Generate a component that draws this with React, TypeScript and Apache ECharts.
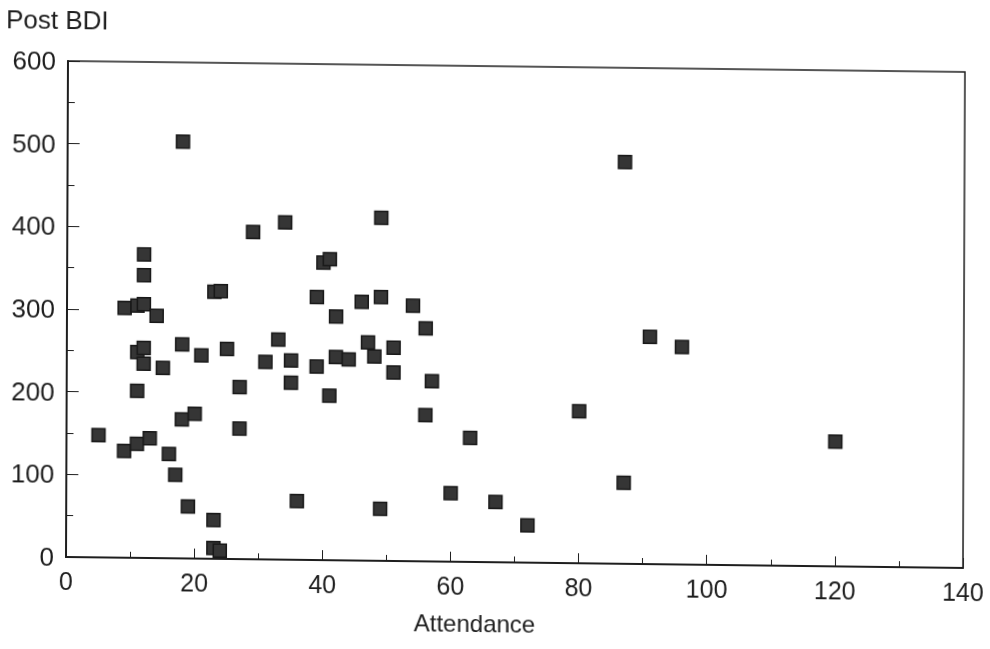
import React, { useEffect, useRef } from "react";
import * as echarts from "echarts";

const attendance = [
  5, 9, 11, 13, 16, 17, 19, 23, 23, 24,
  11, 11, 12, 12, 15, 18, 21, 25, 27, 27,
  18, 20, 31, 33, 35, 35, 36, 18, 34, 29,
  12, 12, 23, 24, 9, 11, 12, 14, 49, 40,
  41, 39, 42, 46, 49, 54, 56, 39, 42, 44,
  47, 48, 51, 51, 57, 56, 41, 63, 80, 60,
  49, 67, 72, 87, 87, 91, 96, 120,
];
const postBDI = [
  148, 129, 138, 145, 126, 101, 63, 47, 13, 10,
  202, 249, 254, 235, 230, 259, 246, 254, 208, 158,
  168, 175, 239, 266, 241, 214, 71, 504, 408, 396,
  367, 342, 323, 324, 302, 305, 307, 293, 415, 360,
  364, 318, 295, 313, 319, 309, 282, 234, 246, 243,
  264, 247, 258, 228, 218, 177, 199, 150, 184, 83,
  63, 73, 45, 98, 486, 275, 263, 151,
];

const xTitle = "Attendance";
const yTitle = "Post BDI";

export default function App() {
  const ref = useRef<HTMLDivElement>(null);
  useEffect(() => {
    if (!ref.current) return;
    const chart = echarts.init(ref.current, null, { renderer: "svg" });
    const font = "'Liberation Sans', Arial, Helvetica, sans-serif";
    const data = attendance.map((x, i) => [x, postBDI[i]]);
    chart.setOption({
      animation: false,
      backgroundColor: "#ffffff",
      grid: {
        left: 66,
        right: 27,
        top: 61,
        bottom: 92,
        show: true,
        borderColor: "#1e1e1e",
        borderWidth: 1.5,
        backgroundColor: "transparent",
      },
      graphic: [
        {
          type: "text",
          left: 4,
          top: 7,
          style: { text: yTitle, fontSize: 26, fontFamily: font, fill: "#1e1e1e" },
        },
        {
          type: "text",
          left: 414,
          top: 606,
          style: { text: xTitle, fontSize: 24, fontFamily: font, fill: "#1e1e1e" },
        },
      ],
      xAxis: {
        type: "value",
        min: 0,
        max: 140,
        interval: 20,
        axisLine: { show: true, lineStyle: { color: "#1e1e1e", width: 2 } },
        axisTick: { show: true, inside: true, length: 10, lineStyle: { color: "#1e1e1e", width: 1 } },
        minorTick: { show: true, splitNumber: 2, length: 6, lineStyle: { color: "#1e1e1e", width: 1 } },
        axisLabel: { fontSize: 25, fontFamily: font, color: "#1e1e1e", margin: 11 },
        splitLine: { show: false },
      },
      yAxis: {
        type: "value",
        min: 0,
        max: 600,
        interval: 100,
        axisLine: { show: true, lineStyle: { color: "#1e1e1e", width: 2 } },
        axisTick: { show: true, inside: true, length: 12, lineStyle: { color: "#1e1e1e", width: 1 } },
        minorTick: { show: true, splitNumber: 2, length: 7, lineStyle: { color: "#1e1e1e", width: 1 } },
        axisLabel: { fontSize: 26, fontFamily: font, color: "#1e1e1e", margin: 12 },
        splitLine: { show: false },
      },
      series: [
        {
          type: "scatter",
          data,
          symbol: "rect",
          symbolSize: 13,
          itemStyle: { color: "#353535", borderColor: "#181818", borderWidth: 1.5, opacity: 1 },
        },
      ],
    });
    return () => chart.dispose();
  }, []);
  return (
    <div
      ref={ref}
      style={{
        position: "fixed",
        left: 0,
        top: 0,
        width: 990,
        height: 649,
        background: "#fff",
        transform: "skewX(-0.23deg) skewY(0.7deg)",
        transformOrigin: "66px 557px",
      }}
    />
  );
}
